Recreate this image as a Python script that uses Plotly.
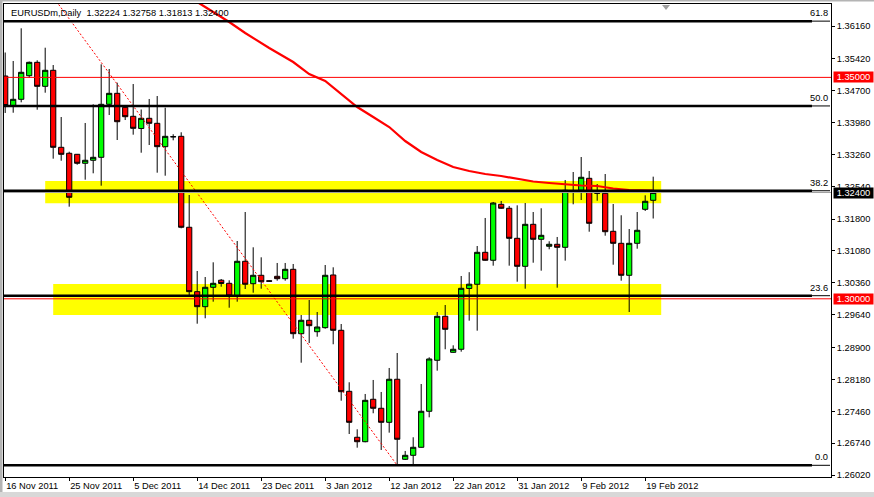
import plotly.graph_objects as go

# ---------------- data ----------------
OPEN = [
    1.35031, 1.34360, 1.34505, 1.35038, 1.35340, 1.34798, 1.35160, 1.33421, 1.33286, 1.33263,
    1.33060, 1.33128, 1.33195, 1.34392, 1.34640, 1.34324, 1.34121, 1.33846, 1.34076, 1.33963,
    1.33435, 1.33662, 1.33669, 1.31615, 1.30161, 1.29822, 1.30260, 1.30420, 1.30350, 1.30063,
    1.30847, 1.30341, 1.30531, 1.30407, 1.30508, 1.30454, 1.30666, 1.29212, 1.29515, 1.29257,
    1.29348, 1.30538, 1.29289, 1.27911, 1.26873, 1.26773, 1.27731, 1.27528, 1.27211, 1.28183,
    1.26376, 1.26466, 1.26647, 1.27460, 1.28612, 1.29605, 1.28792, 1.28860, 1.30233, 1.30328,
    1.31050, 1.30870, 1.32134, 1.32044, 1.31366, 1.30734, 1.31682, 1.31344, 1.31186, 1.31231,
    1.31163, 1.32438, 1.32450, 1.32721, 1.32393, 1.32382, 1.31524, 1.31253, 1.30531, 1.31253,
    1.32021, 1.32224]
HIGH = [
    1.35562, 1.35370, 1.36108, 1.35358, 1.35386, 1.35670, 1.35279, 1.34105, 1.33322, 1.33270,
    1.33970, 1.34392, 1.35295, 1.35189, 1.34880, 1.34331, 1.34850, 1.34275, 1.34512, 1.34579,
    1.34315, 1.33715, 1.33760, 1.32344, 1.30628, 1.30492, 1.30824, 1.30447, 1.30418, 1.31305,
    1.31960, 1.31163, 1.30937, 1.30418, 1.30809, 1.30809, 1.30786, 1.29634, 1.29973, 1.29702,
    1.30763, 1.30711, 1.29431, 1.28115, 1.27053, 1.27851, 1.28167, 1.27896, 1.28438, 1.28776,
    1.26564, 1.26873, 1.28076, 1.28679, 1.29702, 1.29860, 1.28950, 1.30515, 1.30601, 1.31192,
    1.31825, 1.32186, 1.32209, 1.32096, 1.32111, 1.32163, 1.31960, 1.32044, 1.31299, 1.31396,
    1.32683, 1.32863, 1.33202, 1.32886, 1.32592, 1.32818, 1.32141, 1.31886, 1.31576, 1.31960,
    1.32337, 1.32758]
LOW = [
    1.34196, 1.34202, 1.34437, 1.34986, 1.34270, 1.34654, 1.33164, 1.33118, 1.32080, 1.33028,
    1.32690, 1.32834, 1.32554, 1.34150, 1.33586, 1.34037, 1.33706, 1.33299, 1.33473, 1.32848,
    1.32780, 1.33579, 1.31592, 1.30086, 1.29438, 1.29560, 1.29935, 1.30273, 1.29799, 1.29935,
    1.30221, 1.30138, 1.30228, 1.30386, 1.30409, 1.30409, 1.29099, 1.28557, 1.29002, 1.29144,
    1.29325, 1.28973, 1.27699, 1.26947, 1.26638, 1.26760, 1.27415, 1.26586, 1.26977, 1.26240,
    1.26360, 1.26260, 1.26640, 1.27324, 1.28377, 1.28860, 1.28783, 1.28806, 1.29506, 1.29280,
    1.30860, 1.30748, 1.32030, 1.30748, 1.30386, 1.30228, 1.30815, 1.30635, 1.31118, 1.30251,
    1.30861, 1.32134, 1.32231, 1.31515, 1.32215, 1.31425, 1.30770, 1.30409, 1.29702, 1.31131,
    1.31983, 1.31813]
CLOSE = [
    1.34365, 1.34505, 1.35115, 1.35340, 1.34798, 1.35160, 1.33421, 1.33263, 1.32292, 1.33060,
    1.33128, 1.33195, 1.34392, 1.34640, 1.33999, 1.34112, 1.33850, 1.34076, 1.33963, 1.33435,
    1.33669, 1.33658, 1.31615, 1.30161, 1.29822, 1.30260, 1.30350, 1.30346, 1.30063, 1.30847,
    1.30328, 1.30531, 1.30386, 1.30397, 1.30454, 1.30666, 1.29212, 1.29515, 1.29393, 1.29363,
    1.30531, 1.29289, 1.27902, 1.27211, 1.26773, 1.27708, 1.27528, 1.27211, 1.28183, 1.26828,
    1.26466, 1.26647, 1.27460, 1.28641, 1.29605, 1.29311, 1.28860, 1.30237, 1.30330, 1.31050,
    1.30870, 1.32163, 1.32044, 1.31366, 1.30734, 1.31682, 1.31344, 1.31434, 1.31231, 1.31163,
    1.32450, 1.32430, 1.32744, 1.31705, 1.32385, 1.31515, 1.31253, 1.30531, 1.31253, 1.31547,
    1.32202, 1.32400]
BARS = list(range(len(OPEN)))

# moving average (red curve)
MA_BARS = [22, 24, 25, 28, 30, 33, 36, 38, 40, 42, 44, 46, 48, 50, 52, 54, 56, 58, 60,
           62, 64, 66, 68, 70, 72, 74, 76, 78, 80, 81]
MA_VALUES = [1.36883, 1.36702, 1.36589, 1.36250, 1.36002, 1.35663, 1.35347, 1.35076, 1.34918,
             1.34624, 1.34331, 1.34105, 1.33879, 1.33563, 1.33315, 1.33134, 1.32976, 1.32886,
             1.32818, 1.32773, 1.32705, 1.32649, 1.32615, 1.32581, 1.32558, 1.32547, 1.32491,
             1.32457, 1.32446, 1.32441]

# x tick labels every 8 bars
TICK_BARS = [0, 8, 16, 24, 32, 40, 48, 56, 64, 72, 80]
TICK_LABELS = ["16 Nov 2011", "25 Nov 2011", "5 Dec 2011", "14 Dec 2011", "23 Dec 2011",
               "3 Jan 2012", "12 Jan 2012", "22 Jan 2012", "31 Jan 2012", "9 Feb 2012",
               "19 Feb 2012"]
PRICE_TICKS = [1.26020, 1.26740, 1.27460, 1.28180, 1.28900, 1.29640, 1.30360, 1.31080,
               1.31800, 1.32540, 1.33260, 1.33980, 1.34700, 1.35420, 1.36160]

# Fibonacci retracement
FIB_HIGH, FIB_HIGH_BAR = 1.4247, -17
FIB_LOW, FIB_LOW_BAR = 1.2624, 49
FIB_RATIOS = [0.0, 23.6, 38.2, 50.0, 61.8]

# horizontal red levels and zones
RED_LEVELS = [1.35000, 1.30000]
BID = 1.32400
ZONES = [(5, 82, 1.32157, 1.32660), (6, 82, 1.29634, 1.30334)]

TITLE = "EURUSDm,Daily\u00a0\u00a01.32224 1.32758 1.31813 1.32400"

# ---------------- figure ----------------
FONT = "Liberation Sans, Arial, sans-serif"
FS = 9.3
fig = go.Figure()

fig.add_trace(go.Candlestick(
    x=BARS, open=OPEN, high=HIGH, low=LOW, close=CLOSE,
    increasing=dict(fillcolor="#00FF00", line=dict(color="black", width=1)),
    decreasing=dict(fillcolor="#FF0000", line=dict(color="black", width=1)),
    whiskerwidth=0, hoverinfo="skip"))

fig.add_trace(go.Scatter(x=MA_BARS, y=MA_VALUES, mode="lines",
                         line=dict(color="#FF0000", width=2.2), hoverinfo="skip"))

fig.add_trace(go.Scatter(x=[FIB_HIGH_BAR, FIB_LOW_BAR], y=[FIB_HIGH, FIB_LOW], mode="lines",
                         line=dict(color="#FF0000", width=1, dash="2px,2px"), hoverinfo="skip"))

shapes = []
for x0, x1, y0, y1 in ZONES:
    shapes.append(dict(type="rect", xref="x", yref="y", x0=x0, x1=x1, y0=y0, y1=y1,
                       fillcolor="#FFFF00", line=dict(width=0), layer="below"))
for lvl in RED_LEVELS:
    shapes.append(dict(type="line", xref="paper", yref="y", x0=0, x1=1, y0=lvl, y1=lvl,
                       line=dict(color="#FF0000", width=1)))
shapes.append(dict(type="line", xref="paper", yref="y", x0=0, x1=1, y0=BID, y1=BID,
                   line=dict(color="#A0A0A0", width=1)))

annotations = []
rng = FIB_HIGH - FIB_LOW
for r in FIB_RATIOS:
    lvl = FIB_LOW + rng * r / 100.0
    shapes.append(dict(type="line", xref="paper", yref="y", x0=0, x1=0.977, y0=lvl, y1=lvl,
                       line=dict(color="black", width=2.5)))
    shapes.append(dict(type="line", xref="paper", yref="y", x0=0.977, x1=0.9988, y0=lvl, y1=lvl,
                       line=dict(color="black", width=1)))
    annotations.append(dict(xref="paper", yref="y", x=0.9988, y=lvl, text=f"{r:.1f}",
                            xanchor="right", yanchor="bottom", yshift=1, showarrow=False,
                            font=dict(family=FONT, size=FS, color="black")))

# price boxes on the right scale
for lvl, bg in [(1.35000, "#FF0000"), (1.30000, "#FF0000"), (BID, "#000000")]:
    annotations.append(dict(xref="paper", yref="y", x=1, y=lvl, text=f"{lvl:.5f}",
                            xanchor="left", yanchor="middle", xshift=2, showarrow=False,
                            bgcolor=bg, width=39, height=10, borderpad=0,
                            font=dict(family=FONT, size=FS, color="white")))

annotations.append(dict(xref="paper", yref="paper", x=0.006, y=0.9816, text=TITLE,
                        xanchor="left", yanchor="middle", showarrow=False,
                        font=dict(family=FONT, size=FS, color="black")))

# window frame & chart-shift marker
shapes += [
    dict(type="rect", xref="paper", yref="paper", x0=-0.00484, x1=-0.0018, y0=-0.0423, y1=1.0085,
         fillcolor="#B4B4B4", line=dict(width=0), layer="above"),
    dict(type="rect", xref="paper", yref="paper", x0=-0.00484, x1=1.052, y0=-0.0423, y1=-0.0317,
         fillcolor="#D8D8D8", line=dict(width=0), layer="above"),
    dict(type="rect", xref="paper", yref="paper", x0=-0.00484, x1=1.052, y0=1.0053, y1=1.0085,
         fillcolor="#B4B4B4", line=dict(width=0), layer="above"),
    dict(type="path", xref="paper", yref="paper",
         path="M 0.7957,0.9979 L 0.8053,0.9979 L 0.8005,0.9873 Z",
         fillcolor="#A0A0A0", line=dict(width=0)),
]

fig.update_layout(
    width=874, height=497,
    margin=dict(l=4, r=43, t=4, b=20),
    paper_bgcolor="white", plot_bgcolor="white",
    showlegend=False, boxgap=0.35, boxgroupgap=0,
    font=dict(family=FONT, size=FS, color="black"),
    shapes=shapes, annotations=annotations,
    xaxis=dict(range=[-0.15, 103.225], tickmode="array", tickvals=TICK_BARS, ticktext=TICK_LABELS,
               ticks="outside", ticklen=3, tickcolor="black", ticklabelposition="outside right",
               showgrid=False, zeroline=False, showline=True, linecolor="black", linewidth=1,
               mirror=True, rangeslider=dict(visible=False), fixedrange=True,
               tickfont=dict(family=FONT, size=FS, color="black")),
    yaxis=dict(range=[1.25976, 1.36657], side="right", tickmode="array", tickvals=PRICE_TICKS,
               ticktext=[f"{v:.5f}" for v in PRICE_TICKS], ticks="outside", ticklen=3,
               tickcolor="black", showgrid=False, zeroline=False, showline=True,
               linecolor="black", linewidth=1, mirror=True, fixedrange=True,
               tickfont=dict(family=FONT, size=FS, color="black")),
)

fig.write_html("out.html", config={"displayModeBar": False},
               post_script="document.body.style.margin='0';document.body.style.overflow='hidden';")
